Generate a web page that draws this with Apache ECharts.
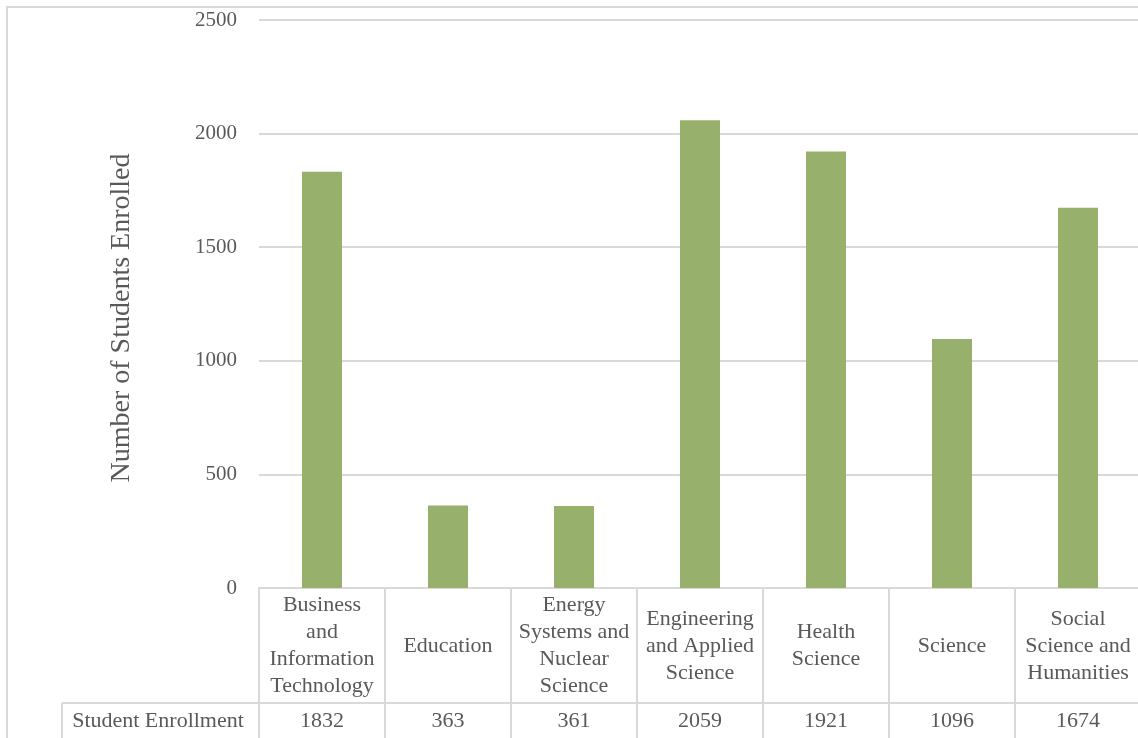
<!DOCTYPE html>
<html>
<head>
<meta charset="utf-8">
<script src="https://cdn.jsdelivr.net/npm/echarts@6/dist/echarts.min.js"></script>
<style>
html,body{margin:0;padding:0;background:#fff;}
#c{width:1138px;height:738px;}
</style>
</head>
<body>
<div id="c"></div>
<script>
var categories = ['Business\nand\nInformation\nTechnology', 'Education', 'Energy\nSystems and\nNuclear\nScience', 'Engineering\nand Applied\nScience', 'Health\nScience', 'Science', 'Social\nScience and\nHumanities'];
var enrollment = [1832, 363, 361, 2059, 1921, 1096, 1674];
var seriesName = 'Student Enrollment';
var yTicks = [0, 500, 1000, 1500, 2000, 2500];

var FONT = '"Liberation Serif", "DejaVu Serif", serif';
var TXT = '#595959';
var LINE = '#d9d9d9';

var chart = echarts.init(document.getElementById('c'));
chart.setOption({
  animation: false,
  backgroundColor: '#fff',
  grid: { left: 259, top: 20, width: 882, bottom: 150, containLabel: false, outerBoundsMode: 'none' },
  xAxis: [
    {
      type: 'category',
      data: categories,
      position: 'bottom',
      axisLine: { show: true, lineStyle: { color: LINE, width: 2 } },
      axisTick: { show: true, length: 152, lineStyle: { color: LINE, width: 2 } },
      axisLabel: {
        interval: 0, margin: 58, verticalAlign: 'middle',
        color: TXT, fontFamily: FONT, fontSize: 22, lineHeight: 27
      }
    },
    {
      type: 'category',
      data: enrollment.map(String),
      position: 'bottom',
      offset: 115,
      axisLine: { show: true, lineStyle: { color: LINE, width: 2 } },
      axisTick: { show: false },
      axisLabel: {
        interval: 0, margin: 18, verticalAlign: 'middle',
        color: TXT, fontFamily: FONT, fontSize: 22
      }
    }
  ],
  yAxis: {
    type: 'value',
    min: yTicks[0], max: yTicks[yTicks.length - 1], interval: 500,
    name: 'Number of Students Enrolled',
    nameLocation: 'middle', nameGap: 123,
    nameTextStyle: { color: TXT, fontFamily: FONT, fontSize: 28, padding: [0, 28, 0, 0] },
    axisLine: { show: false },
    axisTick: { show: false },
    axisLabel: { color: TXT, fontFamily: FONT, fontSize: 21, margin: 22, formatter: function (v) { return String(v); } },
    splitLine: { lineStyle: { color: LINE, width: 2 } }
  },
  series: [{
    name: seriesName,
    type: 'bar',
    data: enrollment,
    barWidth: 40,
    itemStyle: { color: '#97B16C' }
  }],
  graphic: [
    { type: 'rect', shape: { x: 7, y: 7, width: 1200, height: 800 }, style: { fill: 'none', stroke: LINE, lineWidth: 2 }, silent: true },
    { type: 'line', shape: { x1: 62, y1: 703, x2: 259, y2: 703 }, style: { stroke: LINE, lineWidth: 2 }, silent: true },
    { type: 'line', shape: { x1: 62, y1: 703, x2: 62, y2: 740 }, style: { stroke: LINE, lineWidth: 2 }, silent: true },
    { type: 'text', x: 158, y: 721, style: { text: seriesName, fill: TXT, font: '22px ' + FONT, align: 'center', verticalAlign: 'middle' }, silent: true }
  ]
});
</script>
</body>
</html>
